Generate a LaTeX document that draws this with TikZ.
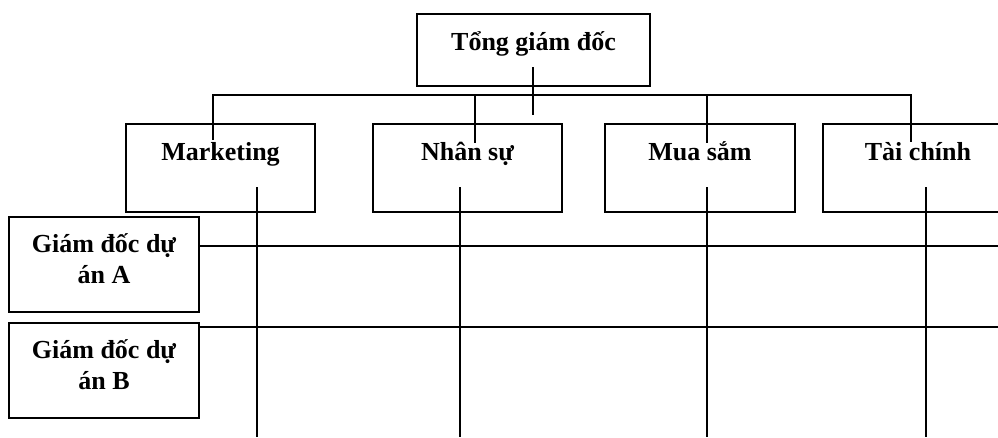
\documentclass[tikz,border=0pt]{standalone}
\usepackage{fontspec}
\setmainfont{Liberation Serif}
\begin{document}
\begin{tikzpicture}[x=1pt,y=-1pt,
  box/.style={draw=black,line width=2.2pt,rectangle,inner sep=0pt,minimum width=190pt,minimum height=88pt},
  txt/.style={inner sep=0pt,anchor=base,align=center,font=\fontsize{26}{31}\selectfont\bfseries},
  conn/.style={draw=black,line width=1.8pt}]
\useasboundingbox (0,0) rectangle (998,437);
\clip (0,0) rectangle (998,437);
% boxes
\node[box,minimum width=233pt,minimum height=72pt] (ceo) at (533.5,50) {};
\node[box,minimum width=189pt] (mk) at (220.5,168) {};
\node[box,minimum width=189pt] (hr) at (467.5,168) {};
\node[box] (ms) at (700,168) {};
\node[box] (tc) at (918,168) {};
\node[box,minimum height=95pt] (pa) at (104,264.5) {};
\node[box,minimum height=95pt] (pb) at (104,370.5) {};
% texts
\node[txt] (ceo-t) at (533.5,50) {Tổng giám đốc};
\node[txt] (mk-t) at (220.5,160) {Marketing};
\node[txt] (hr-t) at (467.5,160) {Nhân sự};
\node[txt] (ms-t) at (700,160) {Mua sắm};
\node[txt] (tc-t) at (918,160) {Tài chính};
\node[txt] (pa-t) at (104,283) {Giám đốc dự\\án A};
\node[txt] (pb-t) at (104,389) {Giám đốc dự\\án B};
% connector points
\coordinate (ceo-a) at (533,67);
\coordinate (ceo-b) at (533,115);
\coordinate (bus-l) at (213,95);
\coordinate (bus-r) at (911,95);
\coordinate (mk-in) at (213,140);
\coordinate (hr-bus) at (475,95);
\coordinate (hr-in) at (475,143);
\coordinate (ms-bus) at (707,95);
\coordinate (ms-in) at (707,143);
\coordinate (tc-in) at (911,142);
\coordinate (mk-d1) at (257,187);
\coordinate (mk-d2) at (257,437);
\coordinate (hr-d1) at (460,187);
\coordinate (hr-d2) at (460,437);
\coordinate (ms-d1) at (707,187);
\coordinate (ms-d2) at (707,437);
\coordinate (tc-d1) at (926,187);
\coordinate (tc-d2) at (926,437);
\coordinate (pa-end) at (998,246);
\coordinate (pb-end) at (998,327);
% connectors
\draw[conn] (ceo-a) -- (ceo-b);
\draw[conn] (mk-in) -- (bus-l) -- (bus-r) -- (tc-in);
\draw[conn] (hr-bus) -- (hr-in);
\draw[conn] (ms-bus) -- (ms-in);
\draw[conn] (mk-d1) -- (mk-d2);
\draw[conn] (hr-d1) -- (hr-d2);
\draw[conn] (ms-d1) -- (ms-d2);
\draw[conn] (tc-d1) -- (tc-d2);
\draw[conn] (pa.east |- pa-end) -- (pa-end);
\draw[conn] (pb.east |- pb-end) -- (pb-end);
\end{tikzpicture}
\end{document}
